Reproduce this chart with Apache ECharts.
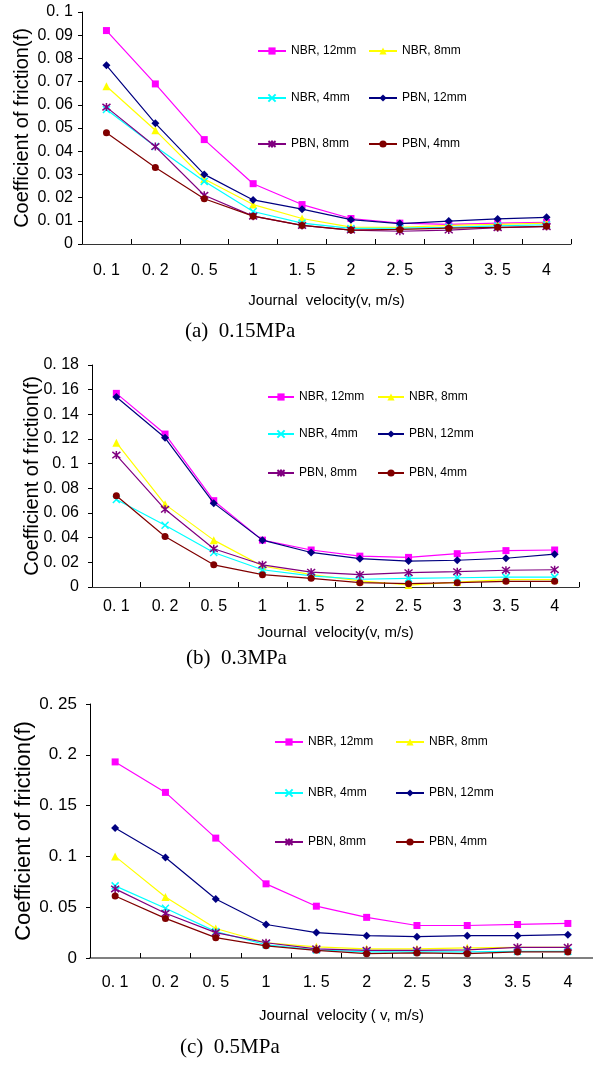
<!DOCTYPE html>
<html>
<head>
<meta charset="utf-8">
<script src="https://cdn.jsdelivr.net/npm/echarts@6/dist/echarts.min.js"></script>
<style>
  html, body { margin: 0; padding: 0; background: #ffffff; }
  #chart { width: 593px; height: 1067px; }
</style>
</head>
<body>
<div id="chart"></div>
<script>
// Journal velocity categories (m/s)
const velocityLabels = ['0. 1', '0. 2', '0. 5', '1', '1. 5', '2', '2. 5', '3', '3. 5', '4'];

// Bearing material / lining thickness
const seriesNames = ['NBR, 12mm', 'NBR, 8mm', 'NBR, 4mm', 'PBN, 12mm', 'PBN, 8mm', 'PBN, 4mm'];

// Y-axis tick labels for each load case
const yLabels015 = ['0', '0. 01', '0. 02', '0. 03', '0. 04', '0. 05', '0. 06', '0. 07', '0. 08', '0. 09', '0. 1'];
const yLabels03 = ['0', '0. 02', '0. 04', '0. 06', '0. 08', '0. 1', '0. 12', '0. 14', '0. 16', '0. 18'];
const yLabels05 = ['0', '0. 05', '0. 1', '0. 15', '0. 2', '0. 25'];

// Coefficient of friction, 0.15 MPa
const nbr12_015 = [0.092, 0.069, 0.045, 0.026, 0.017, 0.011, 0.009, 0.0085, 0.009, 0.0093];
const nbr8_015  = [0.068, 0.049, 0.028, 0.017, 0.011, 0.0073, 0.0072, 0.008, 0.0085, 0.009];
const nbr4_015  = [0.058, 0.042, 0.027, 0.014, 0.009, 0.0067, 0.0068, 0.0072, 0.0078, 0.0083];
const pbn12_015 = [0.077, 0.052, 0.030, 0.019, 0.015, 0.0105, 0.0088, 0.0099, 0.0108, 0.0115];
const pbn8_015  = [0.059, 0.042, 0.021, 0.012, 0.008, 0.006, 0.0055, 0.006, 0.007, 0.0075];
const pbn4_015  = [0.048, 0.033, 0.0195, 0.012, 0.008, 0.006, 0.0063, 0.0068, 0.0072, 0.0076];

// Coefficient of friction, 0.3 MPa
const nbr12_03 = [0.157, 0.124, 0.070, 0.038, 0.030, 0.025, 0.024, 0.027, 0.0295, 0.030];
const nbr8_03  = [0.117, 0.067, 0.038, 0.017, 0.010, 0.005, 0.0016, 0.004, 0.006, 0.006];
const nbr4_03  = [0.071, 0.050, 0.028, 0.014, 0.009, 0.0063, 0.007, 0.0075, 0.008, 0.008];
const pbn12_03 = [0.154, 0.121, 0.068, 0.038, 0.028, 0.023, 0.021, 0.0217, 0.0233, 0.0266];
const pbn8_03  = [0.107, 0.063, 0.031, 0.018, 0.012, 0.010, 0.0116, 0.0124, 0.0136, 0.014];
const pbn4_03  = [0.074, 0.041, 0.018, 0.010, 0.007, 0.0035, 0.0027, 0.0035, 0.0046, 0.0046];

// Coefficient of friction, 0.5 MPa
const nbr12_05 = [0.193, 0.163, 0.118, 0.073, 0.051, 0.040, 0.032, 0.032, 0.033, 0.034];
const nbr8_05  = [0.100, 0.060, 0.029, 0.015, 0.011, 0.009, 0.009, 0.010, 0.0105, 0.0105];
const nbr4_05  = [0.071, 0.049, 0.026, 0.013, 0.008, 0.006, 0.006, 0.006, 0.0065, 0.0065];
const pbn12_05 = [0.128, 0.099, 0.058, 0.033, 0.025, 0.022, 0.021, 0.022, 0.022, 0.023];
const pbn8_05  = [0.068, 0.044, 0.025, 0.015, 0.009, 0.0076, 0.0076, 0.008, 0.0105, 0.0105];
const pbn4_05  = [0.061, 0.039, 0.020, 0.012, 0.0076, 0.0043, 0.005, 0.0043, 0.006, 0.006];

const captions = ['(a)  0.15MPa', '(b)  0.3MPa', '(c)  0.5MPa'];
const xAxisTitles = ['Journal  velocity(v, m/s)', 'Journal  velocity(v, m/s)', 'Journal  velocity ( v, m/s)'];
const yAxisTitle = 'Coefficient of friction(f)';

const panelData = [
  [nbr12_015, nbr8_015, nbr4_015, pbn12_015, pbn8_015, pbn4_015],
  [nbr12_03, nbr8_03, nbr4_03, pbn12_03, pbn8_03, pbn4_03],
  [nbr12_05, nbr8_05, nbr4_05, pbn12_05, pbn8_05, pbn4_05]
];
const panelYLabels = [yLabels015, yLabels03, yLabels05];
const panelYMax = [0.1, 0.18, 0.25];
const panelYStep = [0.01, 0.02, 0.05];

// Marker shapes
const crossPath = 'path://M0,0L10,10M10,0L0,10';
const asteriskPath = 'path://M0,1L10,9M10,1L0,9M5,0L5,10';
const markerStyles = [
  { color: '#FF00FF', symbol: 'rect', size: 7, stroke: 0 },
  { color: '#FFFF00', symbol: 'triangle', size: 8, stroke: 0 },
  { color: '#00FFFF', symbol: crossPath, size: 7, stroke: 1.5 },
  { color: '#000080', symbol: 'diamond', size: 8, stroke: 0 },
  { color: '#800080', symbol: asteriskPath, size: 8, stroke: 1.5 },
  { color: '#800000', symbol: 'circle', size: 7, stroke: 0 }
];

// Panel layout
const grids = [
  { left: 82, top: 12, width: 489, height: 232 },
  { left: 92, top: 365, width: 487, height: 222 },
  { left: 90, top: 704, width: 508, height: 254 }
];
const xLabelMargin = [19, 12, 17];
const xNameGap = [49, 38, 50];
const xLineColor = ['#333333', '#333333', '#808080'];
const xLineWidth = [1, 1, 2];
const yLabelSize = [16, 16, 17];
const yLabelMargin = [9, 13, 13];
const yNameSize = [20, 20, 22];
const yNameGap = [50, 50, 55];
const legendCols = [[257, 368], [267, 377], [274, 395]];
const legendRows = [[52, 99, 145], [398, 435, 474], [743, 794, 843]];
const legendIconW = [28, 26, 28];
const captionPos = [[245, 333], [246, 660], [240, 1049]];

const option = {
  animation: false,
  backgroundColor: '#ffffff',
  grid: grids.map(g => Object.assign({ containLabel: false }, g)),
  xAxis: grids.map((g, p) => ({
    type: 'category',
    gridIndex: p,
    data: velocityLabels,
    boundaryGap: true,
    name: xAxisTitles[p],
    nameLocation: 'middle',
    nameGap: xNameGap[p],
    nameMoveOverlap: false,
    nameTextStyle: { fontFamily: 'Liberation Sans', fontSize: 15, color: '#000' },
    axisLine: { lineStyle: { color: xLineColor[p], width: xLineWidth[p] } },
    axisTick: { show: true, inside: true, length: 5, alignWithLabel: false, lineStyle: { color: '#000' } },
    axisLabel: { fontFamily: 'Liberation Sans', fontSize: 16, color: '#000', margin: xLabelMargin[p], interval: 0 },
    splitLine: { show: false }
  })),
  yAxis: grids.map((g, p) => ({
    type: 'value',
    gridIndex: p,
    min: 0,
    max: panelYMax[p],
    interval: panelYStep[p],
    name: yAxisTitle,
    nameLocation: 'middle',
    nameRotate: 90,
    nameGap: yNameGap[p],
    nameMoveOverlap: false,
    nameTextStyle: { fontFamily: 'Liberation Sans', fontSize: yNameSize[p], color: '#000' },
    axisLine: { show: true, lineStyle: { color: '#000', width: 1 } },
    axisTick: { show: true, inside: false, length: 4, lineStyle: { color: '#000' } },
    axisLabel: {
      fontFamily: 'Liberation Sans', fontSize: yLabelSize[p], color: '#000', margin: yLabelMargin[p],
      formatter: (v, i) => panelYLabels[p][i]
    },
    splitLine: { show: false }
  })),
  legend: [],
  series: [],
  graphic: captions.map((c, p) => ({
    type: 'text',
    left: captionPos[p][0] - 60,
    top: captionPos[p][1] - 12,
    style: {
      text: c,
      fontFamily: 'Liberation Serif',
      fontSize: 21,
      fill: '#000'
    }
  }))
};

panelData.forEach((rows, p) => {
  rows.forEach((values, s) => {
    const m = markerStyles[s];
    option.series.push({
      name: seriesNames[s],
      type: 'line',
      xAxisIndex: p,
      yAxisIndex: p,
      data: values,
      symbol: m.symbol,
      symbolSize: m.size,
      showAllSymbol: true,
      lineStyle: { color: m.color, width: 1.2 },
      itemStyle: { color: m.color, borderColor: m.color, borderWidth: m.stroke, opacity: 1 },
      emphasis: { disabled: true },
      z: 2 + s
    });
  });
  seriesNames.forEach((name, s) => {
    const col = s % 2;
    const row = Math.floor(s / 2);
    option.legend.push({
      data: [name],
      left: legendCols[p][col],
      top: legendRows[p][row] - 7,
      itemWidth: legendIconW[p],
      itemHeight: 9,
      itemGap: 0,
      padding: 0,
      selectedMode: false,
      textStyle: { fontFamily: 'Liberation Sans', fontSize: 12, color: '#000' }
    });
  });
});

const chart = echarts.init(document.getElementById('chart'), null, { renderer: 'canvas' });
chart.setOption(option);
</script>
</body>
</html>
